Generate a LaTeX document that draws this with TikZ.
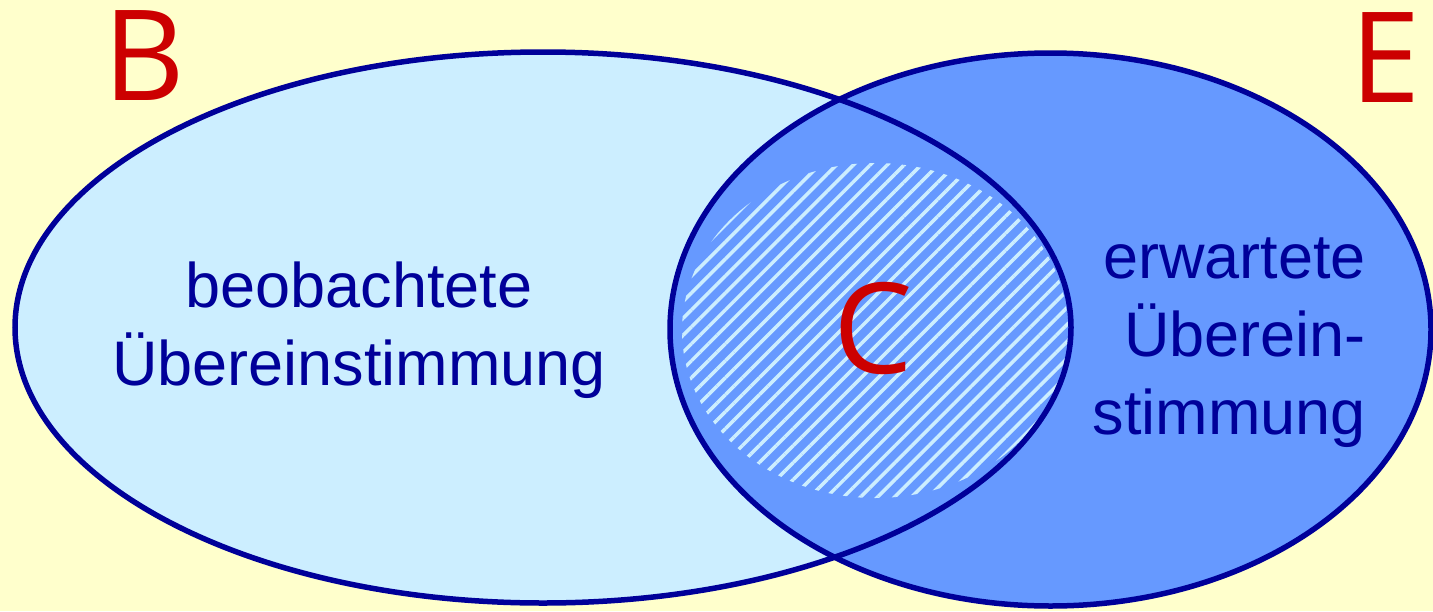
\documentclass[tikz,border=0pt]{standalone}
\usepackage{fontspec}
\setmainfont{Liberation Sans}
\newfontfamily\letterfont{Open Sans}
\usetikzlibrary{patterns.meta}
\definecolor{bgy}{HTML}{FFFFCC}
\definecolor{lightb}{HTML}{CCEEFF}
\definecolor{midb}{HTML}{6699FF}
\definecolor{darkb}{HTML}{000099}
\definecolor{redl}{HTML}{CC0000}
\tikzset{
  setline/.style={draw=darkb, line width=5.5pt},
  bigletter/.style={text=redl, font=\letterfont\fontsize{126}{126}\selectfont, inner sep=0pt},
  label text/.style={text=darkb, font=\fontsize{63}{78}\selectfont, inner sep=0pt}
}
\begin{document}
\begin{tikzpicture}[x=1pt,y=-1pt]
\fill[bgy] (0,0) rectangle (1433,611);
\useasboundingbox (0,0) rectangle (1433,611);
% set B
\fill[lightb] (543,327.5) ellipse [x radius=528pt, y radius=275.5pt];
% set E
\fill[midb] (1050.5,329.5) ellipse [x radius=380.5pt, y radius=276.5pt];
% hatched intersection C
\fill[midb] (875,330.5) ellipse [x radius=193pt, y radius=167.5pt];
\fill[pattern={Lines[angle=45,distance=12pt,line width=3.5pt]}, pattern color=lightb]
  (875,330.5) ellipse [x radius=193pt, y radius=167.5pt];
% borders
\draw[setline] (543,327.5) ellipse [x radius=528pt, y radius=275.5pt];
\draw[setline] (1050.5,329.5) ellipse [x radius=380.5pt, y radius=276.5pt];
% letters
\node[bigletter, anchor=base] (B) at (144,100) {B};
\node[bigletter, anchor=base] (E) at (1386,102) {E};
\node[bigletter, anchor=base] (C) at (873,373) {C};
% texts (base anchor = last line)
\node[label text, anchor=base, align=center] (obs) at (359,385) {beobachtete\\Übereinstimmung};
\node[label text, anchor=base east, align=right] (exp) at (1366,434) {erwartete\\Überein-\\stimmung};
\end{tikzpicture}
\end{document}
